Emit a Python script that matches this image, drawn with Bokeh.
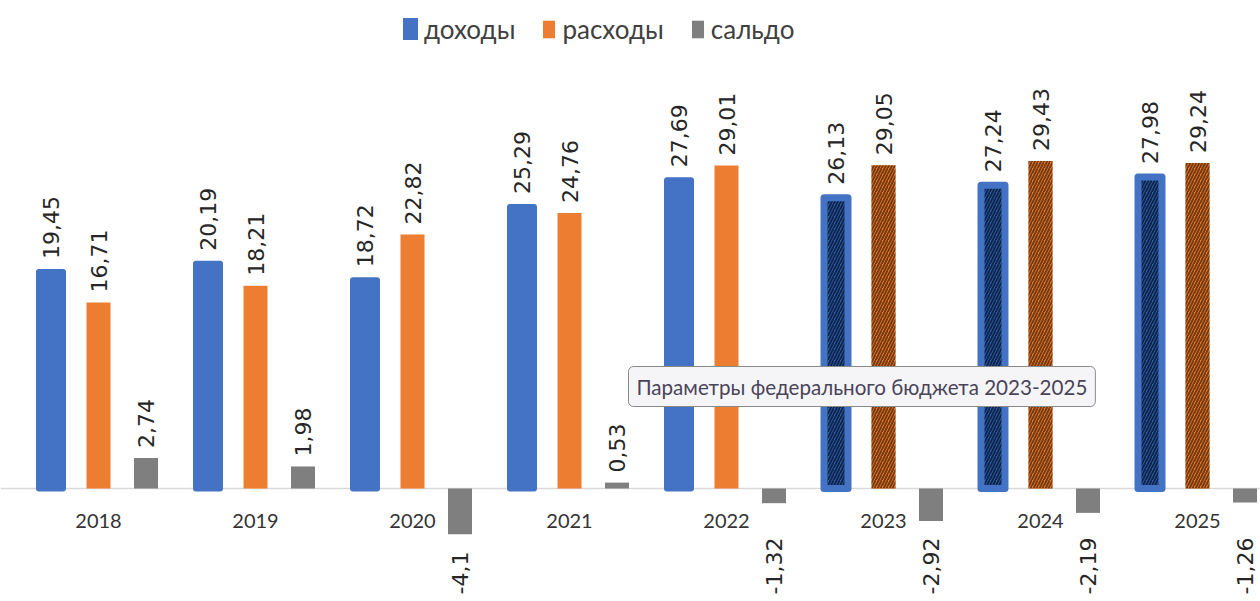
import numpy as np
import pandas as pd
from bokeh.plotting import figure
from bokeh.models import Range1d, ColumnDataSource, Legend, LegendItem, Label, Span
from bokeh.core.properties import value
from bokeh.embed import file_html
from bokeh.resources import INLINE

# ---- data ----
years = ["2018", "2019", "2020", "2021", "2022", "2023", "2024", "2025"]
income = [19.45, 20.19, 18.72, 25.29, 27.69, 26.13, 27.24, 27.98]
expense = [16.71, 18.21, 22.82, 24.76, 29.01, 29.05, 29.43, 29.24]
balance = [2.74, 1.98, -4.1, 0.53, -1.32, -2.92, -2.19, -1.26]
series_names = ["доходы", "расходы", "сальдо"]
first_plan_year = 2023
note_text = "Параметры федерального бюджета 2023-2025"

# ---- styles ----
BLUE = "#4472C4"
ORANGE = "#ED7D31"
GRAY = "#7F7F7F"
TXT = "#404040"
NARROW = "Lato"
VAL_FONT = "DejaVu Sans"

W, H = 1260, 601
px_x = 157.0           # pixels per category
px_y = 11.13           # pixels per unit
x0 = -98 / px_x
x1 = x0 + W / px_x
y1 = 488 / px_y
y0 = y1 - H / px_y

off = 47.5 / px_x
bw = 24 / px_x

df = pd.DataFrame({"year": years, "income": income, "expense": expense, "balance": balance})
df["i"] = np.arange(len(df))
df["xi"] = df["i"] - off
df["xe"] = df["i"]
df["xb"] = df["i"] + off
df["plan"] = df["year"].astype(int) >= first_plan_year

def fmt(v):
    return ("%g" % v).replace(".", ",")

p = figure(width=W, height=H, x_range=Range1d(x0, x1), y_range=Range1d(y0, y1),
           x_axis_type=None, y_axis_type=None, toolbar_location=None,
           output_backend="svg", min_border=0, outline_line_color=None)
p.grid.visible = False
p.background_fill_color = "white"

p.add_layout(Span(location=0, dimension="width", line_color="#d9d9d9", line_width=1.5, level="underlay"))

fact = ColumnDataSource(df[~df["plan"]])
plan = ColumnDataSource(df[df["plan"]])
allsrc = ColumnDataSource(df)

r_inc = p.vbar(x="xi", top="income", width=bw, source=fact, fill_color=BLUE,
               line_color=BLUE, line_width=6, line_join="round")
p.vbar(x="xi", top="income", width=bw, source=plan, fill_color="#2f64b4",
       line_color=BLUE, line_width=7, line_join="round",
       hatch_pattern="/", hatch_color="#0b1a38", hatch_scale=6, hatch_weight=2, hatch_alpha=0.85)
r_exp = p.vbar(x="xe", top="expense", width=bw, source=fact, fill_color=ORANGE, line_color=None)
p.vbar(x="xe", top="expense", width=bw, source=plan, fill_color=ORANGE, line_color=None,
       hatch_pattern="/", hatch_color="#5a2a08", hatch_scale=6, hatch_weight=2, hatch_alpha=0.8)
r_bal = p.vbar(x="xb", top="balance", width=bw, source=allsrc, fill_color=GRAY, line_color=None)

# value labels
def labels(xcol, vals, shift):
    xs = list(df[xcol])
    ys = [v if v >= 0 else y0 for v in vals]
    yo = [-shift if v >= 0 else -7 for v in vals]
    src = ColumnDataSource(dict(x=xs, y=ys, t=[fmt(v) for v in vals], yo=yo))
    p.text(x="x", y="y", text="t", y_offset="yo", source=src, angle=np.pi / 2,
           text_align="left", text_baseline="middle", text_font=value(VAL_FONT),
           text_font_size="22px", text_color="#262626")

labels("xi", income, 13)
labels("xe", expense, 10)
labels("xb", balance, 10)

# category labels
cat = ColumnDataSource(dict(x=list(df["i"]), y=[0] * len(years), t=years))
p.text(x="x", y="y", text="t", source=cat, y_offset=32, text_align="center",
       text_baseline="middle", text_font=value(NARROW), text_font_size="20px", text_color="#333333")

# note box with shadow
lx = (628 - 98) / px_x
ly = (488 - 386) / px_y
shadow = Label(x=lx, y=ly, x_offset=3, y_offset=-3, text=note_text, text_alpha=0,
               text_font=NARROW, text_font_size="20.6px", text_baseline="middle",
               background_fill_color="#9a9a9a", background_fill_alpha=0.45,
               padding=8, border_radius=5)
note = Label(x=lx, y=ly, text=note_text, text_color="#4a4458",
             text_font=NARROW, text_font_size="20.6px", text_baseline="middle",
             background_fill_color="#f5f5f8", border_line_color="#8a8a8a", border_line_width=1,
             padding=8, border_radius=5)
p.add_layout(shadow)
p.add_layout(note)

legend = Legend(items=[LegendItem(label=series_names[0], renderers=[r_inc]),
                       LegendItem(label=series_names[1], renderers=[r_exp]),
                       LegendItem(label=series_names[2], renderers=[r_bal])],
                orientation="horizontal", location=(403, 556),
                glyph_width=15, glyph_height=22, label_standoff=6, spacing=26,
                padding=0, margin=0, border_line_color=None, background_fill_alpha=0,
                label_text_font=NARROW, label_text_font_size="26px", label_text_color=TXT)
p.add_layout(legend, "center")

open("out.html", "w").write(file_html(p, INLINE))
